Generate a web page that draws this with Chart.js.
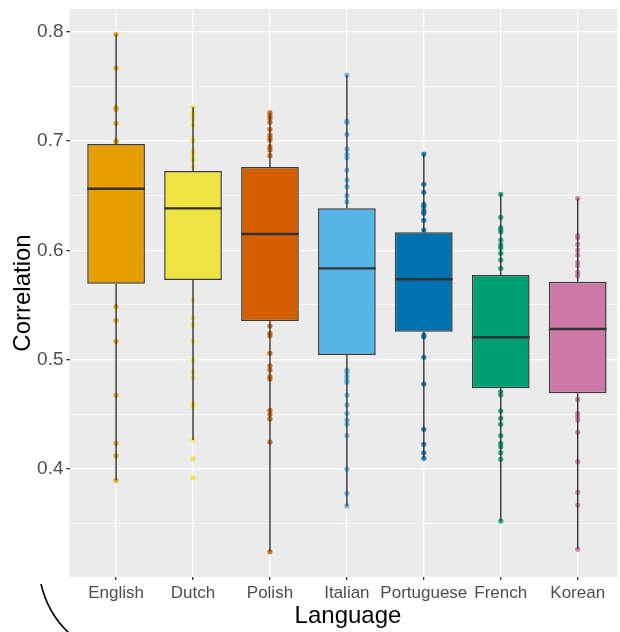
<!DOCTYPE html>
<html>
<head>
<meta charset="utf-8">
<script src="https://cdn.jsdelivr.net/npm/chart.js@4/dist/chart.umd.min.js"></script>
<style>
  html, body { margin: 0; padding: 0; background: #ffffff; overflow: hidden; }
  #wrap { width: 620px; height: 632px; position: relative; }
</style>
</head>
<body>
<div id="wrap"><canvas id="chart" width="620" height="632"></canvas></div>
<script>
// Languages along the x axis
const languages = ['English', 'Dutch', 'Polish', 'Italian', 'Portuguese', 'French', 'Korean'];
const fills = ['#E69F00', '#F0E442', '#D55E00', '#56B4E9', '#0072B2', '#009E73', '#CC79A7'];

// Box statistics per language
const q1 = [0.5694, 0.5728, 0.5353, 0.5042, 0.5255, 0.4737, 0.4692];
const medians = [0.6564, 0.6384, 0.6149, 0.5835, 0.5735, 0.5204, 0.5280];
const q3 = [0.6973, 0.6726, 0.6762, 0.6384, 0.6165, 0.5774, 0.5713];
const whiskerLow = [0.3896, 0.4265, 0.3242, 0.3661, 0.4097, 0.3523, 0.3265];
const whiskerHigh = [0.7976, 0.7308, 0.7259, 0.7604, 0.6881, 0.6512, 0.6476];

// Individual correlations lying outside the boxes
const englishPts = [0.7976, 0.7668, 0.7305, 0.7290, 0.7162, 0.7005, 0.6990, 0.5484, 0.5359, 0.5167, 0.4673, 0.4234, 0.4121, 0.3896];
const dutchPts = [0.7308, 0.7253, 0.7208, 0.7149, 0.7015, 0.7000, 0.6911, 0.6895, 0.6845, 0.6826, 0.6765, 0.5545, 0.5383, 0.5317, 0.5170, 0.4990, 0.4889, 0.4832, 0.4600, 0.4569, 0.4265, 0.4091, 0.3920];
const polishPts = [0.7259, 0.7231, 0.7208, 0.7171, 0.7107, 0.7055, 0.7030, 0.7009, 0.6948, 0.6918, 0.6866, 0.5307, 0.5241, 0.5219, 0.5058, 0.4944, 0.4905, 0.4844, 0.4822, 0.4536, 0.4500, 0.4457, 0.4246, 0.3242];
const italianPts = [0.7604, 0.7183, 0.7171, 0.7061, 0.6927, 0.6878, 0.6847, 0.6735, 0.6643, 0.6582, 0.6500, 0.6445, 0.4905, 0.4884, 0.4844, 0.4813, 0.4792, 0.4676, 0.4585, 0.4509, 0.4447, 0.4408, 0.4304, 0.3999, 0.3777, 0.3661];
const portuguesePts = [0.6881, 0.6604, 0.6531, 0.6421, 0.6399, 0.6360, 0.6339, 0.6274, 0.6186, 0.5225, 0.5209, 0.5021, 0.4777, 0.4362, 0.4225, 0.4148, 0.4097];
const frenchPts = [0.6512, 0.6302, 0.6207, 0.6186, 0.6170, 0.6094, 0.6049, 0.6024, 0.5973, 0.5911, 0.5835, 0.4706, 0.4676, 0.4530, 0.4463, 0.4408, 0.4304, 0.4234, 0.4203, 0.4148, 0.4088, 0.3523];
const koreanPts = [0.6476, 0.6134, 0.6115, 0.6055, 0.6003, 0.5957, 0.5890, 0.5859, 0.5799, 0.5768, 0.4636, 0.4508, 0.4478, 0.4447, 0.4335, 0.4066, 0.3786, 0.3670, 0.3265];
const pointSets = [englishPts, dutchPts, polishPts, italianPts, portuguesePts, frenchPts, koreanPts];

// Axis ticks
const yMajorTicks = [0.4, 0.5, 0.6, 0.7, 0.8];
const yMinorTicks = [0.35, 0.45, 0.55, 0.65, 0.75];
const xTicks = [1, 2, 3, 4, 5, 6, 7];

function hexA(hex, a) {
  const n = parseInt(hex.slice(1), 16);
  return `rgba(${(n >> 16) & 255},${(n >> 8) & 255},${n & 255},${a})`;
}
const isMajor = v => yMajorTicks.some(t => Math.abs(t - v) < 1e-6);

// Point layers, one per language, drawn beneath the boxes
const pointDatasets = pointSets.map((pts, i) => ({
  type: 'scatter',
  label: languages[i],
  data: pts.map(v => ({ x: i + 1, y: v })),
  backgroundColor: hexA(fills[i], 0.85),
  borderWidth: 0,
  pointRadius: 2.6,
  pointHoverRadius: 2.6,
  order: 2
}));

// Interquartile boxes as floating bars
const boxDataset = {
  type: 'bar',
  label: 'IQR',
  data: languages.map((_, i) => ({ x: i + 1, y: [q1[i], q3[i]] })),
  backgroundColor: fills,
  borderColor: '#3a3a3a',
  borderWidth: 1.5,
  borderSkipped: false,
  barPercentage: 0.75,
  categoryPercentage: 1.0,
  order: 1
};

const panelBackground = {
  id: 'panelBackground',
  beforeDraw(chart) {
    const { ctx, chartArea: a } = chart;
    ctx.save();
    ctx.fillStyle = '#ffffff';
    ctx.fillRect(0, 0, chart.width, chart.height);
    ctx.fillStyle = '#EBEBEB';
    ctx.fillRect(a.left, a.top, a.right - a.left, a.bottom - a.top);
    ctx.restore();
  }
};

// Whiskers and median lines, positioned through the chart scales
const boxParts = {
  id: 'boxParts',
  afterDatasetsDraw(chart) {
    const { ctx, scales: { x, y } } = chart;
    const half = 0.375;
    ctx.save();
    ctx.strokeStyle = '#333333';
    ctx.lineCap = 'butt';
    languages.forEach((_, i) => {
      const cx = x.getPixelForValue(i + 1);
      ctx.lineWidth = 1.4;
      ctx.beginPath();
      ctx.moveTo(cx, y.getPixelForValue(whiskerHigh[i]));
      ctx.lineTo(cx, y.getPixelForValue(q3[i]));
      ctx.moveTo(cx, y.getPixelForValue(q1[i]));
      ctx.lineTo(cx, y.getPixelForValue(whiskerLow[i]));
      ctx.stroke();
      ctx.lineWidth = 2.4;
      ctx.beginPath();
      const my = y.getPixelForValue(medians[i]);
      ctx.moveTo(x.getPixelForValue(i + 1 - half), my);
      ctx.lineTo(x.getPixelForValue(i + 1 + half), my);
      ctx.stroke();
    });
    ctx.restore();
  }
};

// Axis titles and the stray pen stroke in the lower-left corner
const decorations = {
  id: 'decorations',
  afterDraw(chart) {
    const ctx = chart.ctx;
    ctx.save();
    ctx.fillStyle = '#000000';
    ctx.font = '24px "Liberation Sans", Arial, sans-serif';
    ctx.textAlign = 'center';
    ctx.textBaseline = 'middle';
    ctx.fillText('Language', 348, 616);
    ctx.translate(23, 293);
    ctx.rotate(-Math.PI / 2);
    ctx.fillText('Correlation', 0, 0);
    ctx.restore();

    ctx.save();
    ctx.strokeStyle = '#000000';
    ctx.lineWidth = 1.6;
    ctx.beginPath();
    ctx.moveTo(41, 584);
    ctx.quadraticCurveTo(48, 614, 70, 634);
    ctx.stroke();
    ctx.restore();
  }
};

new Chart(document.getElementById('chart'), {
  type: 'bar',
  data: { datasets: [boxDataset, ...pointDatasets] },
  options: {
    responsive: false,
    animation: false,
    events: [],
    layout: { padding: { top: 9, right: 0, bottom: 0, left: 0 } },
    plugins: { legend: { display: false }, tooltip: { enabled: false } },
    scales: {
      x: {
        type: 'linear',
        min: 0.3946,
        max: 7.516,
        offset: false,
        afterBuildTicks: s => { s.ticks = xTicks.map(v => ({ value: v })); },
        afterFit: s => { s.height = 55; s.paddingLeft = 0; s.paddingRight = 0; },
        border: { display: false },
        grid: { offset: false, color: '#ffffff', lineWidth: 1.3, drawTicks: true, tickLength: 3, tickColor: '#333333' },
        ticks: {
          autoSkip: false,
          maxRotation: 0,
          minRotation: 0,
          padding: 3,
          color: '#4D4D4D',
          font: { family: '"Liberation Sans", Arial, sans-serif', size: 17 },
          callback: v => languages[Math.round(v) - 1]
        }
      },
      y: {
        type: 'linear',
        min: 0.3011,
        max: 0.8208,
        afterBuildTicks: s => {
          s.ticks = [...yMinorTicks, ...yMajorTicks].sort((a, b) => a - b).map(v => ({ value: v }));
        },
        afterFit: s => { s.width = 69.5; s.paddingTop = 0; s.paddingBottom = 0; },
        border: { display: false },
        grid: {
          color: c => isMajor(c.tick.value) ? '#ffffff' : 'rgba(255,255,255,0.85)',
          lineWidth: c => isMajor(c.tick.value) ? 1.3 : 0.8,
          drawTicks: true,
          tickLength: 3,
          tickColor: c => isMajor(c.tick.value) ? '#333333' : 'rgba(0,0,0,0)'
        },
        ticks: {
          padding: 3,
          color: '#4D4D4D',
          font: { family: '"Liberation Sans", Arial, sans-serif', size: 19 },
          callback: v => isMajor(v) ? v.toFixed(1) : ''
        }
      }
    }
  },
  plugins: [panelBackground, boxParts, decorations]
});
</script>
</body>
</html>
